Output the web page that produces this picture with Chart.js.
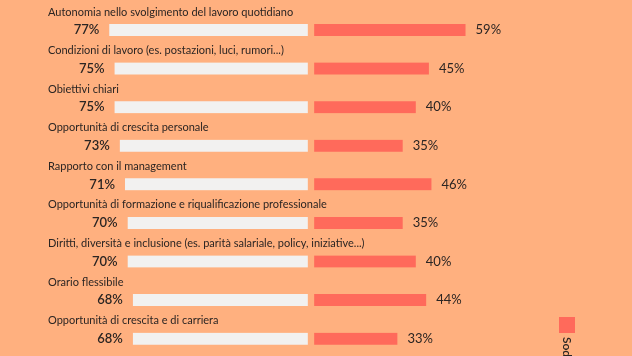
<!DOCTYPE html>
<html>
<head>
<meta charset="utf-8">
<script src="https://cdn.jsdelivr.net/npm/chart.js@4.4.1/dist/chart.umd.min.js"></script>
<style>
  html, body { margin: 0; padding: 0; background: #FFB07F; }
  #wrap { width: 632px; height: 356px; overflow: hidden; }
</style>
</head>
<body>
<div id="wrap"><canvas id="myChart" width="632" height="358"></canvas></div>
<script>
// dati
const categories = [
  'Autonomia nello svolgimento del lavoro quotidiano',
  'Condizioni di lavoro (es. postazioni, luci, rumori...)',
  'Obiettivi chiari',
  'Opportunità di crescita personale',
  'Rapporto con il management',
  'Opportunità di formazione e riqualificazione professionale',
  'Diritti, diversità e inclusione (es. parità salariale, policy, iniziative...)',
  'Orario flessibile',
  'Opportunità di crescita e di carriera'
];
const importanza = [77, 75, 75, 73, 71, 70, 70, 68, 68];
const soddisfazione = [59, 45, 40, 35, 46, 35, 40, 44, 33];
const legendLabel = 'Soddisfazione';

const leftColor = '#F2F1F0';
const rightColor = '#FF6A5B';
const textColor = '#2b2523';

// etichette sopra le barre + percentuali + legenda ruotata
const labelsPlugin = {
  id: 'rowLabels',
  afterDatasetsDraw(chart) {
    const ctx = chart.ctx;
    const metaL = chart.getDatasetMeta(0);
    const metaR = chart.getDatasetMeta(1);
    ctx.save();
    ctx.fillStyle = textColor;
    ctx.textBaseline = 'middle';
    for (let i = 0; i < categories.length; i++) {
      const barL = metaL.data[i];
      const barR = metaR.data[i];
      const y = barL.y;
      ctx.font = '11px Lato';
      ctx.textAlign = 'left';
      ctx.fillText(categories[i], 48, y - 18);

      ctx.font = '600 13px Lato';
      ctx.textAlign = 'right';
      ctx.fillText(importanza[i] + '%', barL.x - 10, y);

      ctx.font = '13px Lato';
      ctx.textAlign = 'left';
      ctx.fillText(soddisfazione[i] + '%', barR.x + 10, y);
    }
    // legenda
    ctx.fillStyle = rightColor;
    ctx.fillRect(559, 317, 16, 16);
    ctx.translate(567, 337);
    ctx.rotate(Math.PI / 2);
    ctx.fillStyle = textColor;
    ctx.font = '600 12px Lato';
    ctx.textAlign = 'left';
    ctx.fillText(legendLabel, 0, 0);
    ctx.restore();
  }
};

const myChart = document.getElementById('myChart');

let barChart = new Chart(myChart, {
  type: 'bar',
  data: {
    labels: categories,
    datasets: [
      {
        label: 'Importanza',
        data: importanza.map(v => -v),
        backgroundColor: leftColor,
        borderColor: 'rgba(0,0,0,0)',
        borderSkipped: false,
        borderWidth: { top: 0, bottom: 0, left: 0, right: 3.5 },
        barThickness: 12
      },
      {
        label: legendLabel,
        data: soddisfazione,
        backgroundColor: rightColor,
        borderColor: 'rgba(0,0,0,0)',
        borderSkipped: false,
        borderWidth: { top: 0, bottom: 0, left: 3.5, right: 0 },
        barThickness: 12
      }
    ]
  },
  options: {
    indexAxis: 'y',
    responsive: false,
    animation: false,
    devicePixelRatio: 1,
    layout: { padding: { left: 49, right: 59, top: 10.7, bottom: 0 } },
    plugins: {
      legend: { display: false },
      tooltip: { enabled: false }
    },
    scales: {
      x: { stacked: true, min: -100, max: 100, display: false },
      y: { stacked: true, display: false }
    }
  },
  plugins: [labelsPlugin]
});
</script>
</body>
</html>
